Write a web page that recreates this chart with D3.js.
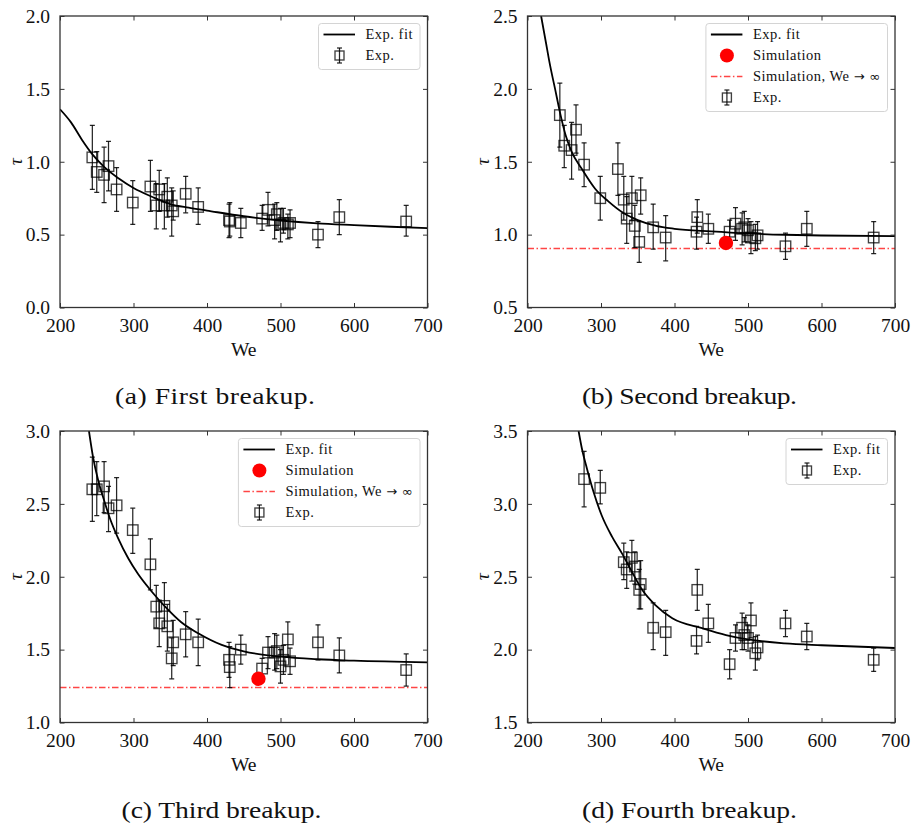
<!DOCTYPE html>
<html><head><meta charset="utf-8">
<script src="https://cdn.jsdelivr.net/npm/d3@7"></script>
<style>
body{margin:0;background:#fff}
svg{display:block}
text{font-family:"Liberation Serif","DejaVu Serif","Times New Roman",serif;fill:#111}
tspan.sym{font-family:"DejaVu Sans",sans-serif;font-size:13px}
</style>
</head><body><svg id="c" width="914" height="823"></svg>
<script>
// ---------- data ----------
const xTicks = [200, 300, 400, 500, 600, 700];
const xRange = [200, 700];

const yRangeA = [0, 2], yTicksA = [0, 0.5, 1.0, 1.5, 2.0];
const yRangeB = [0.5, 2.5], yTicksB = [0.5, 1.0, 1.5, 2.0, 2.5];
const yRangeC = [1, 3], yTicksC = [1.0, 1.5, 2.0, 2.5, 3.0];
const yRangeD = [1.5, 3.5], yTicksD = [1.5, 2.0, 2.5, 3.0, 3.5];

const weExp = [244, 250, 260, 266, 277, 299, 323, 331, 335, 342, 346, 352, 354, 371, 388, 430, 431, 446, 475, 483, 492, 495, 500, 504, 510, 513, 551, 580, 671];

const tauA = [1.03, 0.93, 0.91, 0.97, 0.81, 0.72, 0.83, 0.70, 0.81, 0.70, 0.76, 0.70, 0.66, 0.78, 0.69, 0.60, 0.59, 0.58, 0.61, 0.67, 0.60, 0.64, 0.57, 0.58, 0.57, 0.58, 0.50, 0.62, 0.59];
const loA  = [0.81, 0.79, 0.72, 0.80, 0.66, 0.57, 0.66, 0.54, 0.66, 0.54, 0.62, 0.49, 0.60, 0.65, 0.57, 0.48, 0.49, 0.48, 0.53, 0.56, 0.47, 0.53, 0.45, 0.51, 0.47, 0.48, 0.41, 0.50, 0.49];
const hiA  = [1.25, 1.07, 1.10, 1.14, 0.96, 0.87, 1.01, 0.85, 0.94, 0.85, 0.89, 0.82, 0.80, 0.90, 0.82, 0.71, 0.72, 0.68, 0.70, 0.79, 0.71, 0.72, 0.68, 0.68, 0.64, 0.67, 0.59, 0.74, 0.70];

const tauB = [1.82, 1.61, 1.58, 1.72, 1.48, 1.25, 1.45, 1.24, 1.11, 1.25, 1.06, 0.95, 1.27, 1.05, 0.98, 1.02, 1.12, 1.04, 1.02, 1.075, 1.04, 1.05, 1.03, 0.98, 0.975, 0.995, 0.92, 1.04, 0.98];
const loB  = [1.60, 1.46, 1.38, 1.56, 1.33, 1.10, 1.27, 1.10, 0.94, 1.10, 0.91, 0.81, 1.14, 0.90, 0.82, 0.90, 1.01, 0.94, 0.92, 0.96, 0.93, 0.95, 0.95, 0.87, 0.89, 0.90, 0.83, 0.92, 0.87];
const hiB  = [2.04, 1.75, 1.77, 1.89, 1.63, 1.40, 1.63, 1.40, 1.26, 1.40, 1.20, 1.09, 1.39, 1.21, 1.13, 1.12, 1.24, 1.14, 1.10, 1.185, 1.15, 1.16, 1.11, 1.09, 1.07, 1.09, 1.01, 1.16, 1.09];

const tauC = [2.60, 2.60, 2.62, 2.47, 2.49, 2.32, 2.085, 1.795, 1.68, 1.80, 1.66, 1.44, 1.55, 1.605, 1.55, 1.43, 1.38, 1.50, 1.37, 1.48, 1.48, 1.49, 1.385, 1.43, 1.57, 1.42, 1.55, 1.46, 1.36];
const loC  = [2.38, 2.42, 2.44, 2.31, 2.30, 2.16, 1.91, 1.65, 1.52, 1.65, 1.49, 1.30, 1.39, 1.45, 1.39, 1.31, 1.24, 1.40, 1.30, 1.37, 1.36, 1.37, 1.27, 1.33, 1.45, 1.33, 1.43, 1.34, 1.25];
const hiC  = [2.82, 2.79, 2.79, 2.62, 2.68, 2.47, 2.26, 1.94, 1.84, 1.96, 1.81, 1.58, 1.70, 1.76, 1.71, 1.55, 1.52, 1.60, 1.44, 1.59, 1.61, 1.60, 1.50, 1.53, 1.69, 1.51, 1.67, 1.58, 1.47];

const weExpD = [277, 299, 331, 335, 342, 346, 352, 354, 371, 388, 430, 431, 446, 475, 483, 492, 495, 500, 504, 510, 513, 551, 580, 671];
const tauD = [3.17, 3.11, 2.60, 2.55, 2.63, 2.57, 2.41, 2.45, 2.15, 2.12, 2.06, 2.41, 2.18, 1.90, 2.08, 2.15, 2.10, 2.08, 2.20, 1.975, 2.015, 2.18, 2.09, 1.93];
const loD  = [2.98, 3.00, 2.48, 2.42, 2.47, 2.45, 2.28, 2.28, 2.00, 1.96, 1.97, 2.27, 2.05, 1.80, 1.99, 2.00, 2.00, 1.99, 2.08, 1.86, 1.93, 2.09, 2.00, 1.85];
const hiD  = [3.36, 3.23, 2.73, 2.67, 2.75, 2.67, 2.55, 2.61, 2.32, 2.27, 2.16, 2.55, 2.31, 2.00, 2.17, 2.25, 2.22, 2.17, 2.32, 2.09, 2.10, 2.27, 2.18, 2.01];

// fit curves
const fitWeA  = [200, 215, 230, 245, 260, 280, 300, 325, 350, 375, 400, 450, 500, 550, 600, 650, 700];
const fitTauA = [1.36, 1.27, 1.15, 1.045, 0.965, 0.885, 0.82, 0.76, 0.71, 0.685, 0.665, 0.626, 0.597, 0.577, 0.565, 0.554, 0.545];
const fitWeB  = [218.5, 225, 230, 237.5, 245, 252, 260, 274, 292, 310, 330, 350, 375, 400, 450, 500, 550, 600, 700];
const fitTauB = [2.5, 2.32, 2.18, 2.0, 1.82, 1.68, 1.57, 1.45, 1.315, 1.228, 1.15, 1.10, 1.06, 1.04, 1.022, 1.008, 0.999, 0.994, 0.99];
const fitWeC  = [239.4, 245, 252, 259, 268, 279, 293, 306, 325, 343, 365, 388, 420, 450, 500, 550, 600, 700];
const fitTauC = [3.0, 2.82, 2.66, 2.54, 2.40, 2.265, 2.125, 2.02, 1.897, 1.795, 1.688, 1.612, 1.532, 1.488, 1.452, 1.434, 1.424, 1.413];
const fitWeD  = [269.5, 274, 281, 290, 301, 315, 328.5, 342, 356, 374, 397, 437.5, 470, 500, 550, 600, 700];
const fitTauD = [3.5, 3.38, 3.24, 3.08, 2.92, 2.775, 2.66, 2.535, 2.41, 2.305, 2.215, 2.147, 2.10, 2.07, 2.043, 2.03, 2.011];

// simulation
const simWe = 470;
const simTauB = 0.943, simInfB = 0.905;
const simTauC = 1.30, simInfC = 1.24;

const captions = ["(a) First breakup.", "(b) Second breakup.", "(c) Third breakup.", "(d) Fourth breakup."];
const legendLabels = ["Exp. fit", "Simulation", "Simulation, We \u2192 \u221E", "Exp."];

// ---------- layout ----------
const W = 367.5, H = 291.5;
const panels = [
  {left: 60, top: 16, we: weExp, tau: tauA, lo: loA, hi: hiA, fw: fitWeA, ft: fitTauA, yr: yRangeA, yt: yTicksA, sim: null, cap: captions[0], capX: 215, capY: 404, capW: 200},
  {left: 527.5, top: 16, we: weExp, tau: tauB, lo: loB, hi: hiB, fw: fitWeB, ft: fitTauB, yr: yRangeB, yt: yTicksB, sim: [simTauB, simInfB], cap: captions[1], capX: 689.5, capY: 404, capW: 215},
  {left: 60, top: 431, we: weExp, tau: tauC, lo: loC, hi: hiC, fw: fitWeC, ft: fitTauC, yr: yRangeC, yt: yTicksC, sim: [simTauC, simInfC], cap: captions[2], capX: 221.5, capY: 818, capW: 200},
  {left: 527.5, top: 431, we: weExpD, tau: tauD, lo: loD, hi: hiD, fw: fitWeD, ft: fitTauD, yr: yRangeD, yt: yTicksD, sim: null, cap: captions[3], capX: 689.5, capY: 818, capW: 215}
];

const svg = d3.select("#c");
const frameCol = "#333";
const redLine = "#ff4545";
const dashDot = "6.5,2.5,1.5,2.5";
const boxS = 10.5;

function drawExpSymbol(g, cx, cy, lo, hi, s, cap) {
  g.append("line").attr("x1", cx).attr("x2", cx).attr("y1", lo).attr("y2", hi)
    .attr("stroke", "#000").attr("stroke-width", 1.25).attr("stroke-opacity", 0.85);
  [lo, hi].forEach(v => g.append("line").attr("x1", cx - cap).attr("x2", cx + cap).attr("y1", v).attr("y2", v)
    .attr("stroke", "#000").attr("stroke-width", 1.25).attr("stroke-opacity", 0.85));
  g.append("rect").attr("x", cx - s / 2).attr("y", cy - s / 2).attr("width", s).attr("height", s)
    .attr("fill", "none").attr("stroke", "#000").attr("stroke-width", 1.35).attr("stroke-opacity", 0.75);
}

// write a legend label, putting the arrow / infinity glyphs in a fuller font
function writeLabel(t, label) {
  const parts = label.split(/([\u2192\u221E])/);
  parts.forEach(s => {
    if (!s) return;
    const ts = t.append("tspan").text(s);
    if (s === "\u2192" || s === "\u221E") ts.attr("class", "sym");
  });
}

panels.forEach((p, i) => {
  const g = svg.append("g").attr("transform", `translate(${p.left},${p.top})`);
  const x = d3.scaleLinear().domain(xRange).range([0, W]);
  const y = d3.scaleLinear().domain(p.yr).range([H, 0]);

  const clipId = "clip" + i;
  g.append("clipPath").attr("id", clipId).append("rect").attr("width", W).attr("height", H);
  const plot = g.append("g").attr("clip-path", `url(#${clipId})`);

  if (p.sim) {
    plot.append("line").attr("x1", 0).attr("x2", W).attr("y1", y(p.sim[1])).attr("y2", y(p.sim[1]))
      .attr("stroke", redLine).attr("stroke-width", 1.6).attr("stroke-dasharray", dashDot);
  }

  p.we.forEach((w, k) => {
    const eg = plot.append("g");
    drawExpSymbol(eg, x(w), y(p.tau[k]), y(p.lo[k]), y(p.hi[k]), boxS, 2.5);
  });

  const line = d3.line().x(d => x(d[0])).y(d => y(d[1])).curve(d3.curveMonotoneX);
  plot.append("path").datum(p.fw.map((w, k) => [w, p.ft[k]]))
    .attr("d", line).attr("fill", "none").attr("stroke", "#000").attr("stroke-width", 1.8);

  if (p.sim) {
    plot.append("circle").attr("cx", x(simWe)).attr("cy", y(p.sim[0])).attr("r", 7.2).attr("fill", "#ff0000");
  }

  const fmt = d3.format(".1f");
  const axB = g.append("g").attr("transform", `translate(0,${H})`)
    .call(d3.axisBottom(x).tickValues(xTicks).tickSize(-4.5).tickPadding(11).tickFormat(d3.format("d")));
  const axT = g.append("g").call(d3.axisTop(x).tickValues(xTicks).tickSize(-4.5).tickFormat(""));
  const axL = g.append("g").call(d3.axisLeft(y).tickValues(p.yt).tickSize(-4.5).tickPadding(10).tickFormat(fmt));
  const axR = g.append("g").attr("transform", `translate(${W},0)`)
    .call(d3.axisRight(y).tickValues(p.yt).tickSize(-4.5).tickFormat(""));
  [axB, axT, axL, axR].forEach(a => {
    a.attr("font-family", null);
    a.select(".domain").remove();
    a.selectAll(".tick line").attr("stroke", frameCol).attr("stroke-width", 1);
    a.selectAll(".tick text").attr("font-size", 19.5).attr("fill", "#1a1a1a");
  });
  g.append("rect").attr("width", W).attr("height", H).attr("fill", "none")
    .attr("stroke", frameCol).attr("stroke-width", 1.3);

  g.append("text").attr("x", W / 2).attr("y", H + 48).attr("text-anchor", "middle")
    .attr("font-size", 19.5).text("We");
  g.append("text").attr("transform", `translate(-45,${H / 2}) rotate(-90)`).attr("text-anchor", "middle")
    .attr("dy", "0.35em").attr("font-size", 19.5).attr("font-style", "italic").text("\u03C4");

  // legend
  const entries = p.sim ? [0, 1, 2, 3] : [0, 3];
  const lg = g.append("g");
  const bg = lg.append("rect");
  let maxW = 0;
  entries.forEach((e, r) => {
    const cy = 11 + 21 * r;
    if (e === 0) {
      lg.append("line").attr("x1", 5).attr("x2", 36.5).attr("y1", cy).attr("y2", cy)
        .attr("stroke", "#000").attr("stroke-width", 1.8);
    } else if (e === 1) {
      lg.append("circle").attr("cx", 21).attr("cy", cy).attr("r", 7).attr("fill", "#ff0000");
    } else if (e === 2) {
      lg.append("line").attr("x1", 5).attr("x2", 36.5).attr("y1", cy).attr("y2", cy)
        .attr("stroke", redLine).attr("stroke-width", 1.6).attr("stroke-dasharray", dashDot);
    } else {
      drawExpSymbol(lg, 21, cy, cy + 7.5, cy - 7.5, 9, 2.5);
    }
    const t = lg.append("text").attr("x", 47).attr("y", cy).attr("dy", "0.33em")
      .attr("font-size", 14.5).attr("letter-spacing", "0.5px");
    writeLabel(t, legendLabels[e]);
    maxW = Math.max(maxW, t.node().getBBox().width);
  });
  const lw = 47 + maxW + 7, lh = 21 * entries.length + 4;
  bg.attr("width", lw).attr("height", lh).attr("rx", 3).attr("fill", "#fff").attr("fill-opacity", 0.85)
    .attr("stroke", "#d4d4d4").attr("stroke-width", 1);
  lg.attr("transform", `translate(${W - 7.5 - lw},7.5)`);

  // caption (widened glyphs, as in the original typeface)
  const sx = 1.15;
  svg.append("g").attr("transform", `translate(${p.capX},${p.capY}) scale(${sx},1)`)
    .append("text").attr("x", 0).attr("y", 0).attr("text-anchor", "middle")
    .attr("font-size", 24).attr("textLength", p.capW / sx).attr("lengthAdjust", "spacing").text(p.cap);
});
</script></body></html>
